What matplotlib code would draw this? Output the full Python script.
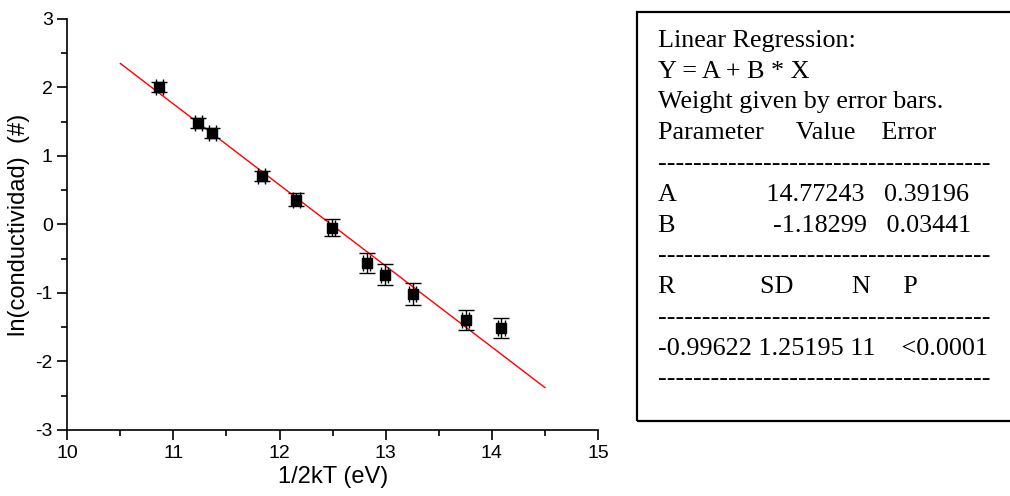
import numpy as np
import matplotlib.pyplot as plt
from matplotlib.patches import Rectangle
from matplotlib.ticker import MultipleLocator

# data
inv_2kT = [10.865, 11.233, 11.368, 11.83, 12.157, 12.49, 12.82, 12.99, 13.255, 13.755, 14.09]
ln_cond = [2.00, 1.486, 1.34, 0.708, 0.358, -0.044, -0.566, -0.733, -1.015, -1.40, -1.51]
y_err = [0.073, 0.075, 0.075, 0.07, 0.095, 0.12, 0.146, 0.15, 0.155, 0.146, 0.148]
x_err = [0.033] * 11

# fit parameters as printed in the box
A = 14.77243
B = -1.18299
fit_x = [10.5, 14.5]

dashes = "-" * 38
report_lines = [
    "Linear Regression:",
    "Y = A + B * X",
    "Weight given by error bars.",
    "Parameter     Value    Error",
    dashes,
    "A              14.77243   0.39196",
    "B               -1.18299   0.03441",
    dashes,
    "R             SD         N     P",
    dashes,
    "-0.99622 1.25195 11    <0.0001",
    dashes,
]

plt.rcParams['font.family'] = ['Liberation Sans', 'DejaVu Sans']
plt.rcParams['axes.unicode_minus'] = False

fig = plt.figure(figsize=(10.1, 4.96), dpi=100)
ax = fig.add_axes([0.0666, 0.1331, 0.5255, 0.8286])

fx = np.array(fit_x)
ax.plot(fx, A + B * fx, color='red', lw=1.0, zorder=2)
ax.errorbar(inv_2kT, ln_cond, xerr=x_err, yerr=y_err, fmt='s', color='black',
            ms=6.5, ecolor='black', elinewidth=1.0, capsize=6, capthick=1.0, zorder=3)

ax.set_xlim(10, 15)
ax.set_ylim(-3, 3)
ax.xaxis.set_major_locator(MultipleLocator(1))
ax.xaxis.set_minor_locator(MultipleLocator(0.5))
ax.yaxis.set_major_locator(MultipleLocator(1))
ax.yaxis.set_minor_locator(MultipleLocator(0.5))
ax.tick_params(which='major', direction='out', length=7, width=1.2, labelsize=14)
ax.tick_params(which='minor', direction='out', length=4, width=1.2)
for side in ['top', 'right']:
    ax.spines[side].set_visible(False)
for side in ['left', 'bottom']:
    ax.spines[side].set_linewidth(1.2)

ax.set_xlabel("1/2kT (eV)", fontsize=17, labelpad=3)
ax.set_ylabel("ln(conductividad)  (#)", fontsize=17, labelpad=4)

# regression report box
fig.add_artist(Rectangle((0.6307, 0.1512), 0.50, 0.8246, transform=fig.transFigure,
                         fill=False, edgecolor='black', lw=1.6, clip_on=False))
for i, line in enumerate(report_lines):
    fig.text(0.6515, 1 - (46.7 + i * 30.8) / 496, line, fontsize=18.8,
             family='Liberation Serif', va='baseline', ha='left')

fig.savefig('out.png', dpi=100)
